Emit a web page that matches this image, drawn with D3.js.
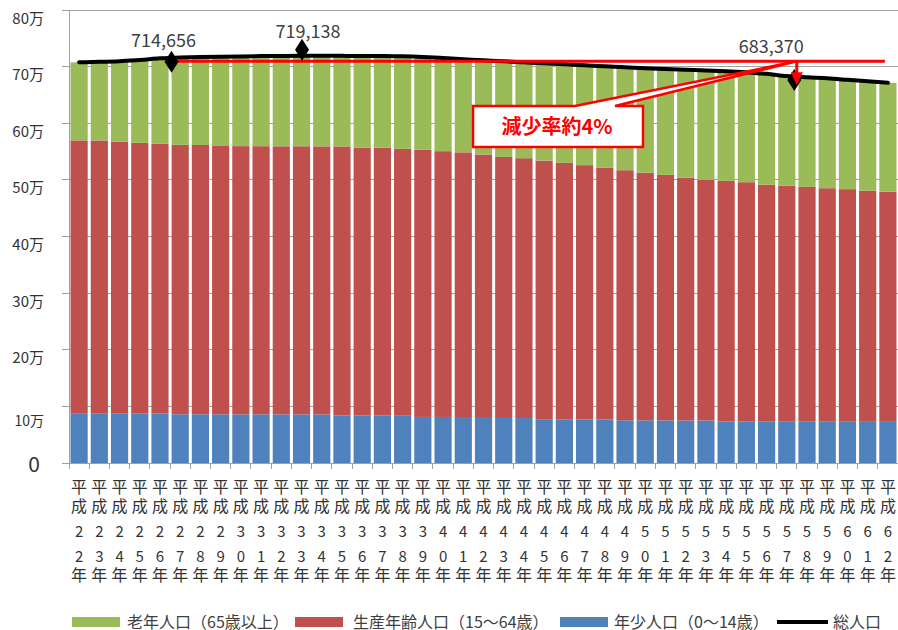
<!DOCTYPE html>
<html><head><meta charset="utf-8">
<script src="https://cdn.jsdelivr.net/npm/d3@7"></script>
<style>
html,body{margin:0;padding:0;background:#fff;}
svg{display:block;font-family:"Noto Sans CJK JP","Noto Sans",sans-serif;}
</style></head>
<body>
<svg id="chart" width="898" height="630"></svg>
<script>
// ---- data ----
const years = d3.range(22, 63).map(n => "平成" + n + "年");
const young = [88000,87900,87800,87800,87700,86100,86000,86000,85900,85900,85800,85800,85700,83700,83600,83600,83500,81400,81300,81200,79600,79500,79400,77300,77200,77100,77000,75500,75400,75300,75200,75100,73100,73000,73000,72900,72900,72800,72800,72700,72700];
const working = [481800,481600,479900,477600,475900,475700,475600,473800,473700,473600,473500,473600,473500,475400,473500,473400,471300,471600,469400,467400,465100,461100,458900,456800,452800,448900,444200,441600,437500,433500,428900,424900,425100,422900,418700,417000,414700,412500,410800,408400,406600];
const elderly = [137800,138900,141900,146100,151056,154100,155200,157700,158500,159100,159600,159738,159900,159900,161800,161700,163400,164000,164500,164600,166400,168800,169300,171700,174100,176300,179300,181700,184100,187000,190400,193300,193700,194000,195600,193470,193500,194000,193100,192900,192100];
const total = [707600,708400,709600,711500,714656,715900,716800,717500,718100,718600,718900,719138,719100,719000,718900,718700,718200,717000,715200,713200,711100,709400,707600,705800,704100,702300,700500,698800,697000,695800,694500,693300,691900,689900,687300,683370,681100,679300,676700,674000,671400];
const yTickValues = [0,100000,200000,300000,400000,500000,600000,700000,800000];
const yTickLabels = ["0","10万","20万","30万","40万","50万","60万","70万","80万"];
const seriesNames = ["老年人口（65歳以上）","生産年齢人口（15～64歳）","年少人口（0～14歳）","総人口"];
const highlightIdx = [4, 11, 35];
const calloutText = "減少率約4%";

// ---- layout ----
const colors = {elderly:"#9BBB59", working:"#C0504D", young:"#4F81BD"};
const svg = d3.select("#chart");
const x = d3.scaleBand().domain(years).range([69, 898]).paddingInner(0.15).paddingOuter(0.075);
const y = d3.scaleLinear().domain([0, 800000]).range([463, 10]);
const step = x.step(), bw = x.bandwidth();
const cx = i => x(years[i]) + bw / 2;

// gridlines
svg.append("g").selectAll("line").data(yTickValues.slice(1)).join("line")
  .attr("x1", 62).attr("x2", 898).attr("y1", d => y(d)).attr("y2", d => y(d))
  .attr("stroke", "#A0A0A0").attr("stroke-width", 1).attr("shape-rendering","crispEdges");

// stacked bars
const rows = years.map((yr, i) => ({year: yr, young: young[i], working: working[i], elderly: elderly[i]}));
const stack = d3.stack().keys(["young","working","elderly"])(rows);
svg.append("g").selectAll("g").data(stack).join("g")
  .attr("fill", s => colors[s.key])
  .selectAll("rect").data(s => s).join("rect")
  .attr("x", d => x(d.data.year)).attr("width", bw)
  .attr("y", d => y(d[1])).attr("height", d => y(d[0]) - y(d[1]));

// axes lines
svg.append("line").attr("x1", 69).attr("x2", 69).attr("y1", 10).attr("y2", 463)
  .attr("stroke", "#A0A0A0").attr("shape-rendering","crispEdges");
svg.append("line").attr("x1", 62).attr("x2", 898).attr("y1", 463).attr("y2", 463)
  .attr("stroke", "#A0A0A0").attr("shape-rendering","crispEdges");
svg.append("g").selectAll("line").data(d3.range(years.length + 1)).join("line")
  .attr("x1", i => 69 + i * step).attr("x2", i => 69 + i * step)
  .attr("y1", 463).attr("y2", 469).attr("stroke", "#A0A0A0").attr("shape-rendering","crispEdges");

// y labels
svg.append("g").selectAll("text").data(yTickValues).join("text")
  .attr("x", (d, i) => i === 0 ? 40 : 44)
  .attr("y", (d, i) => y(d) + (i === 0 ? 9 : i === 1 ? 20 : 13.5))
  .attr("text-anchor", "end")
  .attr("font-size", (d, i) => i === 0 ? 21 : i === 1 ? 14 : 15)
  .attr("fill", "#333")
  .text((d, i) => yTickLabels[i]);

// x labels (stacked vertically)
const xl = svg.append("g").attr("fill", "#333").attr("text-anchor", "middle");
const baselines = [493, 512, 537, 562, 581];
years.forEach((yr, i) => {
  const chars = Array.from(yr);
  chars.forEach((c, k) => {
    xl.append("text").attr("x", cx(i)).attr("y", baselines[k])
      .attr("font-size", (k === 2 || k === 3) ? 15 : 16).text(c);
  });
});

// total line
const line = d3.line().x((d, i) => cx(i)).y(d => y(d)).curve(d3.curveMonotoneX);
svg.append("path").datum(total).attr("d", line).attr("fill", "none")
  .attr("stroke", "#000").attr("stroke-width", 4).attr("stroke-linecap", "round");

// red reference line
const refY = y(total[highlightIdx[0]]) + 3;
svg.append("line").attr("x1", cx(highlightIdx[0]) + 10).attr("x2", cx(years.length - 1) - 3)
  .attr("y1", refY).attr("y2", refY).attr("stroke", "#FF0000").attr("stroke-width", 3);

// callout
const tipX = cx(highlightIdx[2]) + 10, tipY = refY;
svg.append("path")
  .attr("d", `M473,106 L575,106 L${tipX},${tipY} L615,106 L643,106 L643,147 L473,147 Z`)
  .attr("fill", "#fff").attr("stroke", "#FF0000").attr("stroke-width", 2.5).attr("stroke-linejoin","miter");
svg.append("text").attr("x", 557).attr("y", 134).attr("text-anchor", "middle")
  .attr("font-size", 20).attr("font-weight", "bold").attr("fill", "#FF0000").text(calloutText);

// markers and labels
const markerOffsets = [[11.5, 3.5], [0.5, -6], [7.5, 4]];
const labelOffsets = [[3.5, -11.5], [6.5, -18], [-15.5, -23]];
highlightIdx.forEach((idx, k) => {
  const mx = cx(idx) + markerOffsets[k][0], my = y(total[idx]) + markerOffsets[k][1];
  svg.append("path").attr("d", `M${mx},${my - 11} L${mx + 7},${my} L${mx},${my + 11} L${mx - 7},${my} Z`).attr("fill", "#000");
  svg.append("text").attr("x", cx(idx) + labelOffsets[k][0]).attr("y", y(total[idx]) + labelOffsets[k][1])
    .attr("text-anchor", "middle").attr("font-size", 18).attr("fill", "#404040")
    .text(d3.format(",")(total[idx]));
});

// red arrow
const ax = cx(highlightIdx[2]) + 10;
svg.append("line").attr("x1", ax).attr("x2", ax).attr("y1", refY).attr("y2", refY + 12)
  .attr("stroke", "#FF0000").attr("stroke-width", 3);
svg.append("path").attr("d", `M${ax - 6},${refY + 11} L${ax + 6},${refY + 11} L${ax},${refY + 24} Z`).attr("fill", "#FF0000");

// legend
const lg = svg.append("g").attr("font-size", 16).attr("fill", "#404040");
const legendItems = [
  {name: seriesNames[0], color: colors.elderly, sx: 72, tx: 127, type: "rect"},
  {name: seriesNames[1], color: colors.working, sx: 295, tx: 353, type: "rect"},
  {name: seriesNames[2], color: colors.young, sx: 560, tx: 614, type: "rect"},
  {name: seriesNames[3], color: "#000", sx: 777, tx: 833, type: "line"}
];
legendItems.forEach(it => {
  if (it.type === "rect") {
    lg.append("rect").attr("x", it.sx).attr("y", 617).attr("width", 48).attr("height", 10).attr("fill", it.color);
  } else {
    lg.append("line").attr("x1", it.sx).attr("x2", it.sx + 51).attr("y1", 622).attr("y2", 622)
      .attr("stroke", it.color).attr("stroke-width", 4);
  }
  lg.append("text").attr("x", it.tx).attr("y", 628).text(it.name);
});
</script>
</body></html>
